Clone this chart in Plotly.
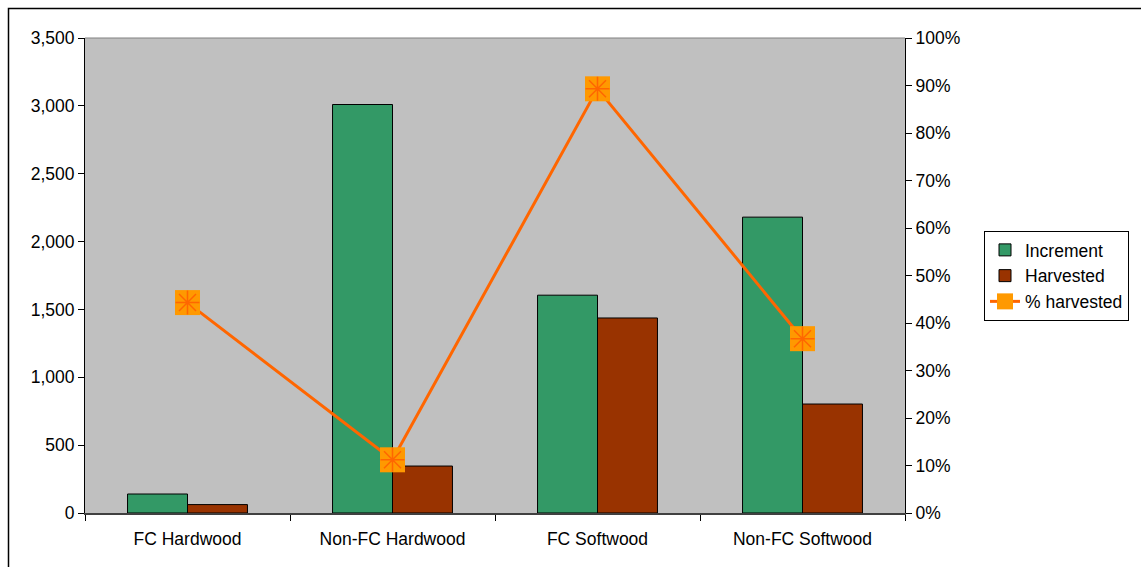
import plotly.graph_objects as go

categories = ["FC Hardwood", "Non-FC Hardwood", "FC Softwood", "Non-FC Softwood"]
increment = [140, 3010, 1605, 2180]
harvested = [62, 346, 1437, 803]
pct_harvested = [0.443, 0.112, 0.893, 0.367]

W, H = 1141, 567
L, R, T, B = 85, 236, 38, 54
pw, ph = W - L - R, H - T - B

FONT = "Liberation Sans, Arial, sans-serif"
FS = 17.5

fig = go.Figure()

fig.add_trace(go.Bar(
    x=categories, y=increment, name="Increment",
    marker=dict(color="#339966", line=dict(color="#000000", width=1)),
))
fig.add_trace(go.Bar(
    x=categories, y=harvested, name="Harvested",
    marker=dict(color="#993300", line=dict(color="#000000", width=1)),
))
fig.add_trace(go.Scatter(
    x=categories, y=pct_harvested, name="% harvested", yaxis="y2",
    mode="lines+markers",
    line=dict(color="#FF6600", width=3),
    marker=dict(symbol="square", size=25, color="#FF9900",
                line=dict(width=0)),
))
# star glyph drawn over the square markers
fig.add_trace(go.Scatter(
    x=categories, y=pct_harvested, yaxis="y2", mode="markers",
    showlegend=False, hoverinfo="skip",
    marker=dict(symbol="asterisk-open", size=20, color="#FF6600",
                line=dict(color="#FF6600", width=1.5)),
))

fig.update_layout(
    width=W, height=H,
    margin=dict(l=L, r=R, t=T, b=B),
    paper_bgcolor="#FFFFFF",
    plot_bgcolor="#C0C0C0",
    barmode="group",
    bargap=0.415,
    bargroupgap=0,
    font=dict(family=FONT, size=FS, color="#000000"),
    xaxis=dict(
        showgrid=False, showline=True, linecolor="#404040", linewidth=2,
        ticks="outside", ticklen=6, tickcolor="#000000",
        tickson="boundaries", tickfont=dict(size=FS),
        ticklabelstandoff=9,
        range=[-0.5, 3.5],
    ),
    yaxis=dict(
        range=[0, 3500], dtick=500, tickformat=",d",
        showgrid=False, zeroline=False,
        showline=True, linecolor="#000000", linewidth=1,
        ticks="outside", ticklen=6, tickcolor="#000000",
        tickfont=dict(size=FS),
    ),
    yaxis2=dict(
        range=[0, 1], dtick=0.1, tickformat=".0%",
        overlaying="y", side="right",
        showgrid=False, zeroline=False,
        showline=True, linecolor="#000000", linewidth=1,
        ticks="outside", ticklen=6, tickcolor="#000000",
        tickfont=dict(size=FS),
    ),
    legend=dict(
        x=(984 - L) / pw, y=(H - B - 231) / ph,
        xanchor="left", yanchor="top",
        bgcolor="#FFFFFF", bordercolor="#000000", borderwidth=1,
        font=dict(size=FS), itemwidth=30,
    ),
    showlegend=True,
    shapes=[
        # plot area top edge
        dict(type="line", xref="paper", yref="paper", x0=0, x1=1, y0=1, y1=1,
             line=dict(color="#808080", width=1)),
        # chart border
        dict(type="rect", xref="paper", yref="paper",
             x0=(8.5 - L) / pw, x1=(W + 5 - L) / pw,
             y0=(H - B - (H + 5)) / ph, y1=(H - B - 8.5) / ph,
             line=dict(color="#000000", width=1.5), fillcolor="rgba(0,0,0,0)",
             layer="below"),
    ],
)

fig.write_html("out.html")
